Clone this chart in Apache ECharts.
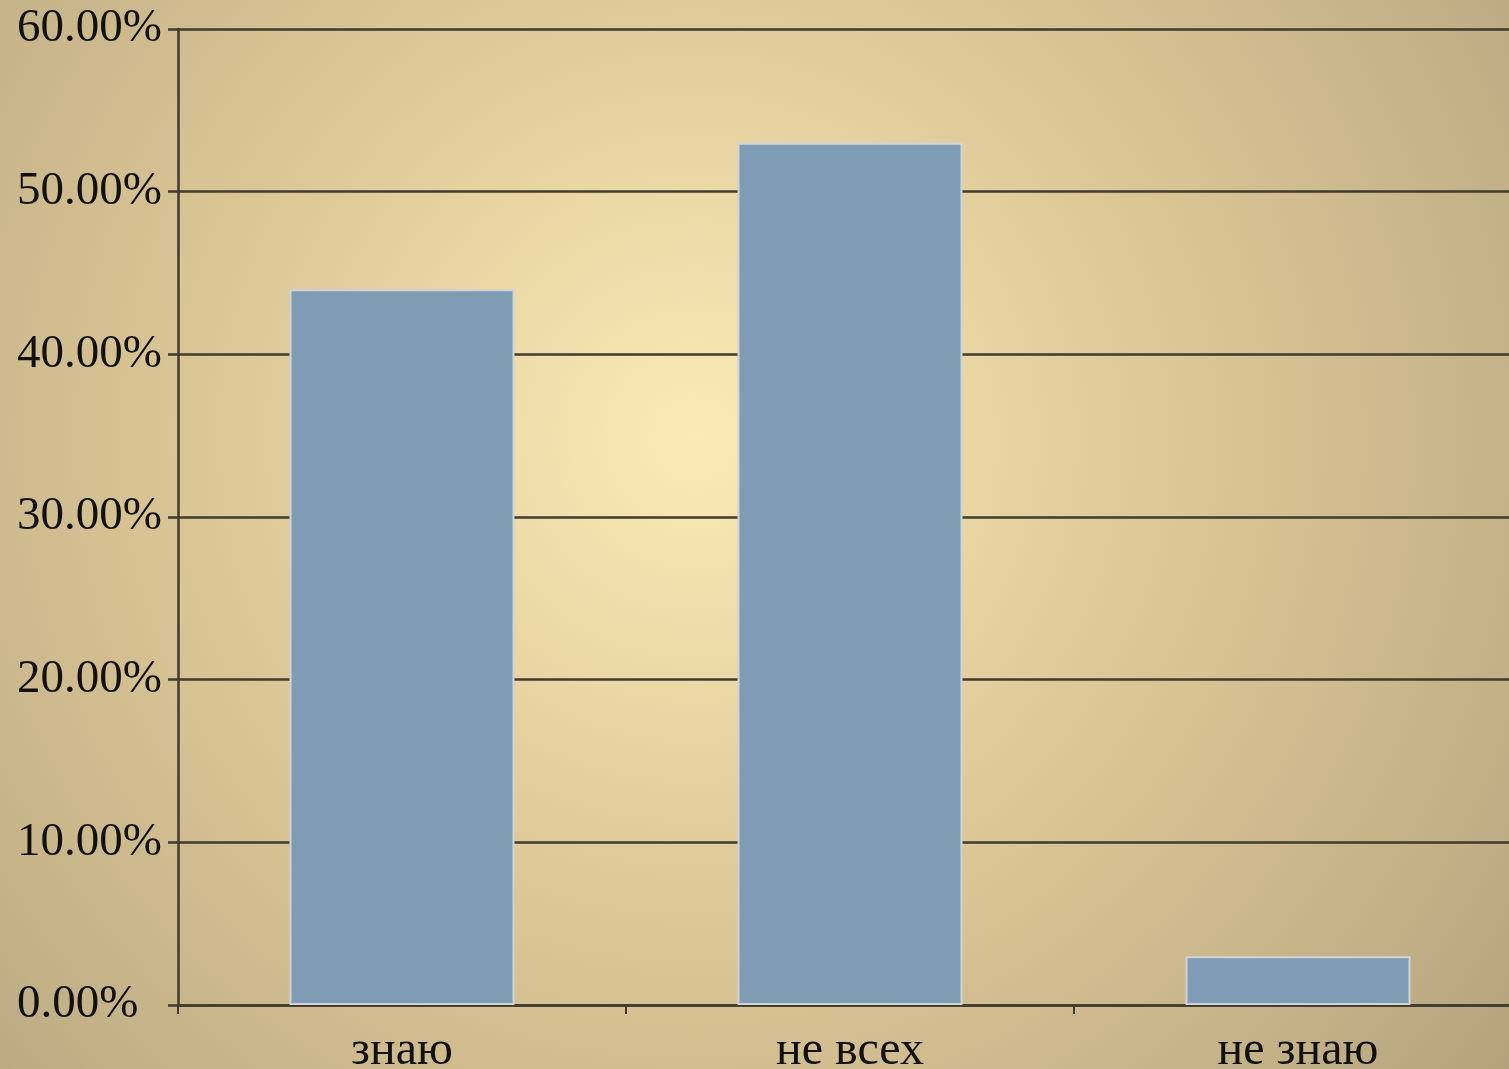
<!DOCTYPE html>
<html>
<head>
<meta charset="utf-8">
<script src="https://cdn.jsdelivr.net/npm/echarts@6/dist/echarts.min.js"></script>
<style>
html,body{margin:0;padding:0;}
#main{width:1509px;height:1069px;}
</style>
</head>
<body>
<div id="main"></div>
<script>
var categories = ['знаю', 'не всех', 'не знаю'];
var values = [44, 53, 3];
var yTicks = { min: 0, max: 60, interval: 10 };

var chart = echarts.init(document.getElementById('main'));
chart.setOption({
  animation: false,
  backgroundColor: {
    type: 'radial', x: 0.46, y: 0.41, r: 1.0,
    colorStops: [
      { offset: 0, color: '#faebb6' },
      { offset: 0.45, color: '#dcc796' },
      { offset: 0.8, color: '#c2b087' },
      { offset: 1, color: '#b09f7b' }
    ]
  },
  grid: { left: 178, top: 29, bottom: 64, right: -13, containLabel: false, outerBoundsMode: 'none' },
  xAxis: {
    type: 'category',
    data: categories,
    axisLine: { lineStyle: { color: '#403b2e', width: 2.5 } },
    axisTick: { show: true, length: 9, lineStyle: { color: '#403b2e', width: 2 } },
    axisLabel: { color: '#111', fontFamily: 'Liberation Serif', fontSize: 48, margin: 22 }
  },
  yAxis: {
    type: 'value',
    min: yTicks.min, max: yTicks.max, interval: yTicks.interval,
    axisLine: { show: true, lineStyle: { color: '#403b2e', width: 2.5 } },
    axisTick: { show: true, length: 10, lineStyle: { color: '#403b2e', width: 2.5 } },
    splitLine: { lineStyle: { color: '#403b2e', width: 2.5 } },
    axisLabel: {
      color: '#111', fontFamily: 'Liberation Serif', fontSize: 47, margin: 161, align: 'left',
      padding: [12, 0, 0, 0],
      formatter: function (v) { return v.toFixed(2) + '%'; }
    }
  },
  series: [{
    type: 'bar',
    data: values,
    barWidth: 225,
    itemStyle: { color: '#7f9cb5', borderColor: '#d0d4d8', borderWidth: 2 }
  }]
});
</script>
</body>
</html>
